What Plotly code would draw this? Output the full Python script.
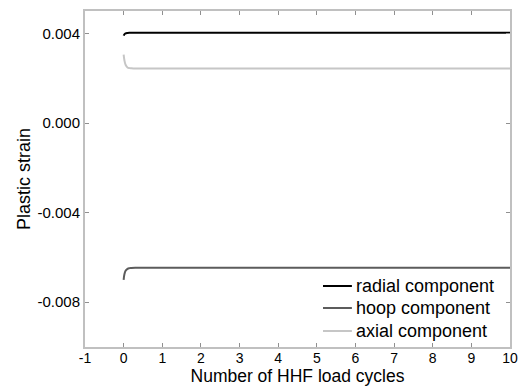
import plotly.graph_objects as go

cycles = [0.0, 0.02, 0.05, 0.1, 0.15, 0.2, 0.3, 0.5, 1, 2, 3, 4, 5, 6, 7, 8, 9, 10]
radial = [0.00390, 0.00396, 0.00400, 0.00402, 0.00403, 0.00403, 0.00403, 0.00403, 0.00403,
          0.00403, 0.00403, 0.00403, 0.00403, 0.00403, 0.00403, 0.00403, 0.00403, 0.00403]
hoop = [-0.00700, -0.00675, -0.00660, -0.00651, -0.00648, -0.00647, -0.00646, -0.00646, -0.00646,
        -0.00646, -0.00646, -0.00646, -0.00646, -0.00646, -0.00646, -0.00646, -0.00646, -0.00646]
axial = [0.00305, 0.00280, 0.00260, 0.00248, 0.00245, 0.00244, 0.00243, 0.00243, 0.00243,
         0.00243, 0.00243, 0.00243, 0.00243, 0.00243, 0.00243, 0.00243, 0.00243, 0.00243]

series_names = ["radial component", "hoop component", "axial component"]
series_colors = ["#000000", "#5c5c5c", "#c6c6c6"]

x_ticks = list(range(-1, 11))
x_labels = [str(v) for v in x_ticks]
y_ticks = [-0.008, -0.004, 0.000, 0.004]
y_labels = ["-0.008", "-0.004", "0.000", "0.004"]

FONT = "Liberation Sans, Arial"

fig = go.Figure()
for name, vals, col in zip(series_names, [radial, hoop, axial], series_colors):
    fig.add_trace(go.Scatter(x=cycles, y=vals, mode="lines", name=name, showlegend=False,
                             line=dict(color=col, width=2, shape="spline")))

axis_common = dict(showgrid=False, zeroline=False, showline=True, linecolor="#c0c0c0",
                   linewidth=2, mirror="ticks", ticks="inside", ticklen=4, tickcolor="#909090",
                   automargin=False)

fig.update_xaxes(range=[-1, 10], tickvals=x_ticks, ticktext=x_labels,
                 tickfont=dict(family=FONT, size=14, color="#000"), ticklabelstandoff=-3,
                 title=dict(text="Number of HHF load cycles", standoff=5,
                            font=dict(family=FONT, size=17.5, color="#000")),
                 **axis_common)
fig.update_yaxes(range=[-0.010, 0.005], tickvals=y_ticks, ticktext=y_labels,
                 tickfont=dict(family=FONT, size=15, color="#000"),
                 title=dict(text="Plastic strain", standoff=2,
                            font=dict(family=FONT, size=18, color="#000")),
                 **axis_common)

# Legend (bottom-right, inside the plot area)
leg_x0, leg_x1, leg_tx = 0.56, 0.628, 0.634
leg_rows = [0.1815, 0.116, 0.0476]
for name, col, yy in zip(series_names, series_colors, leg_rows):
    fig.add_shape(type="line", xref="paper", yref="paper", x0=leg_x0, x1=leg_x1, y0=yy, y1=yy,
                  line=dict(color=col, width=2))
    fig.add_annotation(xref="paper", yref="paper", x=leg_tx, y=yy, text=name, showarrow=False,
                       xanchor="left", yanchor="middle",
                       font=dict(family=FONT, size=18, color="#000"))

fig.update_layout(
    width=522, height=387,
    margin=dict(l=85, r=12, t=11, b=40),
    paper_bgcolor="white", plot_bgcolor="white",
    showlegend=False,
)

fig.write_html("out.html")
